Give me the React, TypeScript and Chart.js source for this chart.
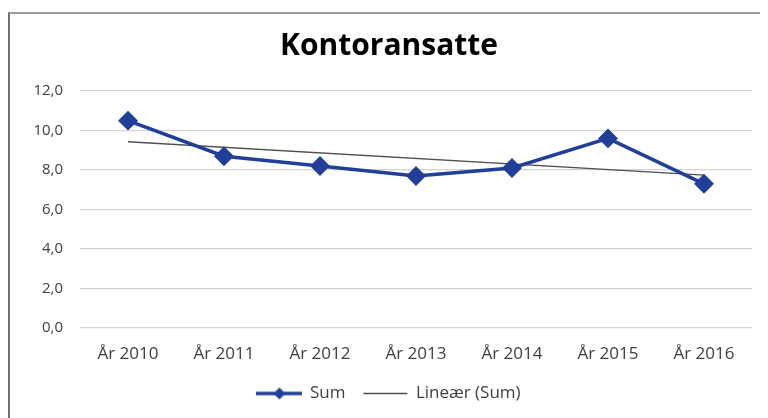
import React, { useEffect, useRef } from 'react';
import { Chart, registerables } from 'chart.js';

Chart.register(...registerables);

const categories = ['År 2010', 'År 2011', 'År 2012', 'År 2013', 'År 2014', 'År 2015', 'År 2016'];
const sumValues = [10.5, 8.7, 8.2, 7.7, 8.1, 9.6, 7.3];
// Linear trend line endpoints (Lineær (Sum))
const trendValues: (number | null)[] = [9.43, null, null, null, null, null, 7.74];
const yMin = 0;
const yMax = 12;
const yStep = 2;

const BLUE = '#213f99';
const FONT = '"Open Sans", sans-serif';

function makeSumLegendIcon(): HTMLCanvasElement {
  const c = document.createElement('canvas');
  c.width = 46;
  c.height = 16;
  const ctx = c.getContext('2d')!;
  ctx.strokeStyle = BLUE;
  ctx.lineWidth = 3.5;
  ctx.beginPath();
  ctx.moveTo(0, 8);
  ctx.lineTo(46, 8);
  ctx.stroke();
  ctx.fillStyle = BLUE;
  ctx.beginPath();
  ctx.moveTo(23, 2);
  ctx.lineTo(29, 8);
  ctx.lineTo(23, 14);
  ctx.lineTo(17, 8);
  ctx.closePath();
  ctx.fill();
  return c;
}

export default function App() {
  const ref = useRef<HTMLCanvasElement | null>(null);

  useEffect(() => {
    if (!ref.current) return;
    const sumIcon = makeSumLegendIcon();
    const chart = new Chart(ref.current, {
      type: 'line',
      data: {
        labels: categories,
        datasets: [
          {
            label: 'Sum',
            data: sumValues,
            borderColor: BLUE,
            backgroundColor: BLUE,
            borderWidth: 3.5,
            pointStyle: 'rectRot',
            pointRadius: 7.5,
            pointBackgroundColor: BLUE,
            pointBorderColor: BLUE,
            tension: 0,
          },
          {
            label: 'Lineær (Sum)',
            data: trendValues,
            borderColor: '#505050',
            backgroundColor: '#505050',
            borderWidth: 1.3,
            pointRadius: 0,
            spanGaps: true,
            tension: 0,
          },
        ],
      },
      options: {
        responsive: false,
        animation: false,
        layout: { padding: { left: 0, right: 0, top: 0, bottom: 6 } },
        plugins: {
          title: {
            display: true,
            text: 'Kontoransatte',
            color: '#000',
            font: { family: FONT, size: 30, weight: 'bold' },
            padding: { top: 14, bottom: 27 },
          },
          legend: {
            display: true,
            position: 'bottom',
            labels: {
              usePointStyle: true,
              pointStyleWidth: 44,
              color: '#404040',
              font: { family: FONT, size: 17 },
              padding: 18,
              generateLabels: (c: any) => {
                const items = Chart.defaults.plugins.legend.labels.generateLabels(c);
                items[0].pointStyle = sumIcon as any;
                items[1].pointStyle = 'line';
                items[1].strokeStyle = '#505050';
                items[1].lineWidth = 1.3;
                return items;
              },
            },
          },
          tooltip: { enabled: false },
        },
        scales: {
          x: {
            offset: true,
            grid: { display: false },
            border: { display: false },
            ticks: { color: '#404040', font: { family: FONT, size: 17 }, padding: 8 },
            afterFit: (s: any) => {
              s.height = 39;
            },
          },
          y: {
            min: yMin,
            max: yMax,
            grid: { color: '#d4d4d4', lineWidth: 1.2, drawTicks: false },
            border: { display: false },
            ticks: {
              stepSize: yStep,
              color: '#404040',
              font: { family: FONT, size: 15 },
              padding: 17,
              callback: (v: any) => Number(v).toFixed(1).replace('.', ','),
            },
            afterFit: (s: any) => {
              s.width = 70;
            },
          },
          yRightSpace: {
            position: 'right',
            min: yMin,
            max: yMax,
            grid: { display: false, drawOnChartArea: false },
            border: { display: false },
            ticks: { display: false },
            afterFit: (s: any) => {
              s.width = 16;
            },
          },
        },
      },
    });
    return () => chart.destroy();
  }, []);

  return (
    <div
      style={{
        marginTop: 4,
        width: 762,
        height: 420,
        borderLeft: '2px solid #707070',
        borderTop: '2px solid #9a9a9a',
        boxSizing: 'border-box',
        background: '#fff',
      }}
    >
      <canvas ref={ref} width={758} height={404} style={{ display: 'block' }} />
    </div>
  );
}
